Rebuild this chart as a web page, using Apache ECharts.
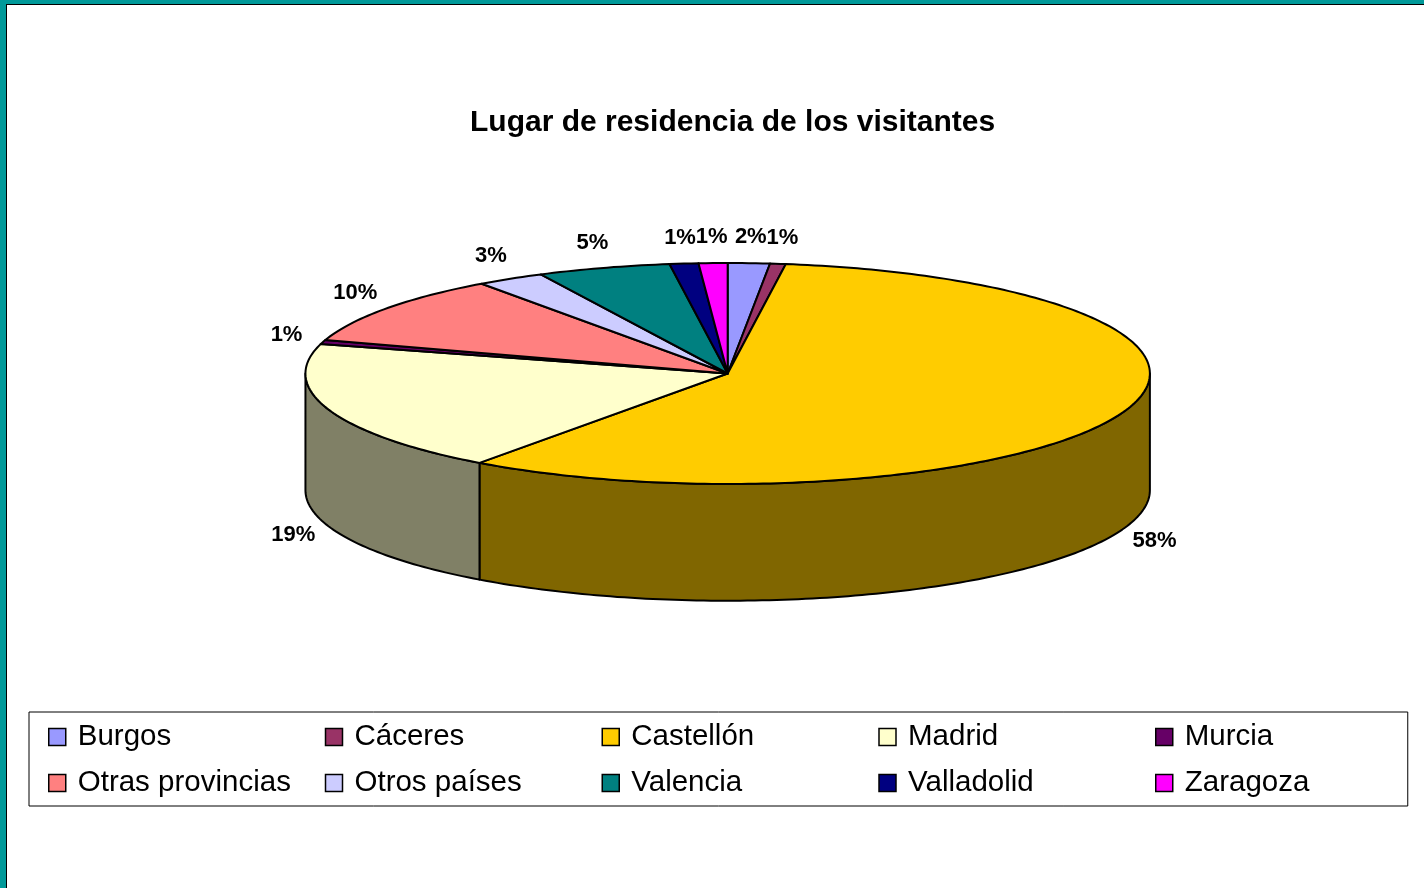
<!DOCTYPE html>
<html>
<head>
<meta charset="utf-8">
<title>Lugar de residencia de los visitantes</title>
<script src="https://cdn.jsdelivr.net/npm/echarts@6/dist/echarts.min.js"></script>
<style>
  html, body { margin: 0; padding: 0; background: #fff; }
  #chart { position: absolute; left: 0; top: 0; width: 1424px; height: 888px; }
  .frame {
    position: absolute; left: 0; top: 0; width: 1424px; height: 888px;
    box-sizing: border-box; pointer-events: none;
    border-top: 4px solid #009999; border-left: 6px solid #009999;
  }
  .frame::after {
    content: ''; position: absolute; left: 0; top: 0; right: 0; bottom: 0;
    border-top: 1px solid #000; border-left: 1px solid #000;
  }
</style>
</head>
<body>
<div id="chart"></div>
<div class="frame"></div>
<script>
const categories = ['Burgos', 'Cáceres', 'Castellón', 'Madrid', 'Murcia',
  'Otras provincias', 'Otros países', 'Valencia', 'Valladolid', 'Zaragoza']
// percentage share of visitors
const shares = [1.6, 0.6, 57.8, 19.3, 0.6, 10.2, 2.6, 5.1, 1.1, 1.1]
const colors = ['#9999FF', '#993366', '#FFCC00', '#FFFFCC', '#660066',
  '#FF8080', '#CCCCFF', '#008080', '#000080', '#FF00FF']

const total = shares.reduce((a, b) => a + b, 0)
const starts = []
shares.reduce((acc, v) => { starts.push(acc); return acc + v }, 0)

function darken(hex) {
  const n = parseInt(hex.slice(1), 16)
  const r = (n >> 16) & 255, g = (n >> 8) & 255, b = n & 255
  return 'rgb(' + Math.round(r / 2) + ',' + Math.round(g / 2) + ',' + Math.round(b / 2) + ')'
}

/* pseudo 3D pie slice: top ellipse sector + front wall */
function sliceRenderer(i) {
  return function (params, api) {
    const W = api.getWidth()
    const H = api.getHeight()
    const cx = W * 0.511, cy = H * 0.4206
    const rx = W * 0.2965, ry = H * 0.1244, depth = H * 0.1315
    const a0 = starts[i] / total * Math.PI * 2
    const a1 = (starts[i] + shares[i]) / total * Math.PI * 2
    const pt = (t, dy) => [cx + rx * Math.sin(t), cy - ry * Math.cos(t) + dy]
    const arc = (from, to, dy) => {
      const n = Math.max(2, Math.ceil((to - from) / Math.PI * 180))
      const out = []
      for (let k = 0; k <= n; k++) out.push(pt(from + (to - from) * k / n, dy))
      return out
    }
    const children = []
    const s0 = Math.max(a0, Math.PI / 2), s1 = Math.min(a1, Math.PI * 1.5)
    if (s1 > s0) {
      const wall = arc(s0, s1, 0).concat(arc(s0, s1, depth).reverse())
      children.push({
        type: 'polygon',
        shape: { points: wall },
        style: { fill: darken(colors[i]), stroke: '#000', lineWidth: 2, lineJoin: 'round' }
      })
    }
    children.push({
      type: 'polygon',
      shape: { points: [[cx, cy]].concat(arc(a0, a1, 0)) },
      style: { fill: colors[i], stroke: '#000', lineWidth: 2, lineJoin: 'round' }
    })
    const mid = (a0 + a1) / 2
    const c = Math.cos(mid)
    children.push({
      type: 'text',
      x: cx + rx * 1.09 * Math.sin(mid),
      y: cy - ry * 1.236 * c + (c < 0 ? depth : 0),
      style: {
        text: Math.round(shares[i] / total * 100) + '%',
        fill: '#000',
        font: 'bold 22px "Liberation Sans", Arial, sans-serif',
        align: 'center',
        verticalAlign: 'middle'
      }
    })
    return { type: 'group', children }
  }
}

const chart = echarts.init(document.getElementById('chart'))

const legendData = categories.map((name, i) => {
  // last column is narrower so the frame closes right after "Zaragoza"
  if (i % 5 === 4) return { name, textStyle: { width: 200 } }
  return { name }
})

chart.setOption({
  animation: false,
  backgroundColor: '#fff',
  title: {
    text: 'Lugar de residencia de los visitantes',
    left: 465,
    top: 103,
    textStyle: {
      fontFamily: '"Liberation Sans", Arial, sans-serif',
      fontWeight: 'bold',
      fontSize: 30,
      color: '#000'
    }
  },
  legend: {
    data: legendData,
    left: 29,
    top: 712,
    width: 1345,
    orient: 'horizontal',
    padding: [4.5, 23, 2.5, 19],
    borderColor: '#000',
    borderWidth: 1,
    icon: 'rect',
    itemWidth: 17,
    itemHeight: 17,
    itemGap: 5,
    itemStyle: { borderColor: '#000', borderWidth: 1.5 },
    textStyle: {
      fontFamily: '"Liberation Sans", Arial, sans-serif',
      fontSize: 29.5,
      color: '#000',
      width: 242,
      lineHeight: 41,
      padding: [0, 0, 0, 7]
    }
  },
  series: categories.map((name, i) => ({
    type: 'custom',
    name,
    coordinateSystem: 'none',
    itemStyle: { color: colors[i] },
    renderItem: sliceRenderer(i),
    data: [[shares[i]]]
  }))
})
</script>
</body>
</html>
